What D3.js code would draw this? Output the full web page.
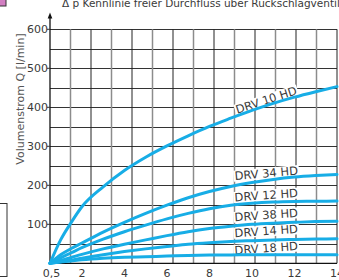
<!DOCTYPE html>
<html lang="de">
<head>
  <meta charset="UTF-8">
  <title>Δp Kennlinie</title>
  <script src="https://d3js.org/d3.v7.min.js"></script>
  <style>
    body { margin: 0; padding: 0; background: #fff; }
    svg { display: block; font-family: "DejaVu Sans", sans-serif; }
  </style>
</head>
<body>
  <div id="chart"></div>
  <script>
    // flow values, in l/min
    const xs = [0.5, 1, 1.5, 2, 3, 4, 5, 6, 7, 8, 9, 10, 11, 12, 13, 14];
    const drv10 = [0, 60, 105, 145, 196, 238, 272, 301, 327, 351, 372, 392, 410, 426, 440, 453];
    const drv34 = [0, 22, 38, 52, 80, 105, 128, 149, 168, 184, 197, 207, 215, 221, 225, 228];
    const drv12 = [0, 14, 27, 40, 62, 81, 98, 114, 128, 140, 149, 154, 157, 158.5, 159, 159.5];
    const drv38 = [0, 7, 15, 23, 37, 49, 60, 71, 81, 89, 95, 100, 103, 105, 107, 108];
    const drv14 = [0, 4, 8, 13, 22, 30, 37, 43, 49, 53, 56, 58, 60, 61, 62, 63];
    const drv18 = [0, 3, 6, 9, 13, 15.5, 17, 18.5, 20, 21, 21.5, 22, 22, 22, 22, 22];

    const seriesNames = ["DRV 10  HD", "DRV 34 HD", "DRV 12 HD", "DRV 38 HD", "DRV 14 HD", "DRV 18 HD"];
    const seriesValues = [drv10, drv34, drv12, drv38, drv14, drv18];
    const xTicks = [0.5, 2, 4, 6, 8, 10, 12, 14];
    const yTicks = [100, 200, 300, 400, 500, 600];

    const width = 339, height = 280;
    const plotL = 50, plotR = 337, plotT = 29.3, plotB = 263.3;

    const svg = d3.select("#chart").append("svg")
      .attr("width", width)
      .attr("height", height);

    const x = d3.scaleLinear().domain([0.5, 14]).range([plotL, plotR]);
    const y = d3.scaleLinear().domain([0, 600]).range([plotB, plotT]);
    // the printed grid has 14 even columns, independent of the tick labels
    const gridX = d3.scaleLinear().domain([0, 14]).range([plotL, plotR]);

    const blue = "#17ade6";
    const textCol = "#3a3a3a";

    // decoration bits at the left edge
    svg.append("rect").attr("x", -1).attr("y", -1).attr("width", 7).attr("height", 7)
      .attr("fill", "#d27fc2").attr("stroke", "#333").attr("stroke-width", 1);
    svg.append("rect").attr("x", -2).attr("y", 203.5).attr("width", 9).attr("height", 73)
      .attr("fill", "none").attr("stroke", "#333").attr("stroke-width", 1);

    // title, cut off at the top like the source
    svg.append("text")
      .attr("x", 62).attr("y", 6.8)
      .attr("font-size", 10.5)
      .attr("fill", textCol)
      .text("Δ p Kennlinie freier Durchfluss über Rückschlagventil");

    // horizontal grid
    svg.append("g").selectAll("line")
      .data(d3.range(50, 601, 50))
      .join("line")
      .attr("x1", plotL).attr("x2", plotR)
      .attr("y1", d => Math.round(y(d)) + 0.5).attr("y2", d => Math.round(y(d)) + 0.5)
      .attr("stroke", "#333").attr("stroke-width", 1);

    // vertical grid, every other line darker
    svg.append("g").selectAll("line")
      .data(d3.range(1, 15))
      .join("line")
      .attr("x1", d => gridX(d)).attr("x2", d => gridX(d))
      .attr("y1", plotT).attr("y2", plotB)
      .attr("stroke", d => d % 2 === 0 ? "#222" : "#8c8c8c")
      .attr("stroke-width", d => d % 2 === 0 ? 1 : 1.5);

    // axes
    svg.append("line")
      .attr("x1", plotL).attr("x2", plotL).attr("y1", plotB).attr("y2", 17)
      .attr("stroke", "#111").attr("stroke-width", 1.3);
    svg.append("path")
      .attr("d", `M${plotL - 2.3},18.5 L${plotL},12.5 L${plotL + 2.3},18.5 Z`)
      .attr("fill", "#111");
    svg.append("line")
      .attr("x1", plotL).attr("x2", plotR).attr("y1", plotB).attr("y2", plotB)
      .attr("stroke", "#111").attr("stroke-width", 1.3);

    // y ticks and labels
    svg.append("g").selectAll("line")
      .data(yTicks)
      .join("line")
      .attr("x1", plotL - 3).attr("x2", plotL)
      .attr("y1", d => y(d)).attr("y2", d => y(d))
      .attr("stroke", "#333");
    svg.append("g").selectAll("text")
      .data(yTicks)
      .join("text")
      .attr("x", plotL - 2).attr("y", d => y(d) + 4)
      .attr("text-anchor", "end")
      .attr("font-size", 11)
      .attr("fill", textCol)
      .text(d => d);

    // x labels
    svg.append("g").selectAll("text")
      .data(xTicks)
      .join("text")
      .attr("x", d => x(d) + (d === 0.5 ? 1.5 : 0)).attr("y", 276.5)
      .attr("text-anchor", "middle")
      .attr("font-size", 11)
      .attr("fill", textCol)
      .text(d => String(d).replace(".", ","));

    // y axis title
    svg.append("text")
      .attr("transform", "translate(24,99) rotate(-90)")
      .attr("text-anchor", "middle")
      .attr("font-size", 11)
      .attr("fill", "#555")
      .text("Volumenstrom Q [l/min]");

    // curve labels: position in data units plus tilt
    const labelX = 10.67;
    const labelY = [419, 231, 175, 124, 83, 39];
    const labelAngle = [-18, -5, -4, -4, -4, -4];

    const labels = svg.append("g").selectAll("g")
      .data(seriesNames)
      .join("g")
      .attr("transform", (d, i) => `translate(${x(labelX)},${y(labelY[i])}) rotate(${labelAngle[i]})`);

    labels.append("text")
      .attr("text-anchor", "middle")
      .attr("dy", "0.36em")
      .attr("font-size", 11.5)
      .attr("fill", textCol)
      .text(d => d);

    labels.each(function () {
      const g = d3.select(this);
      const b = g.select("text").node().getBBox();
      g.insert("rect", "text")
        .attr("x", b.x - 1).attr("y", b.y + 1.5)
        .attr("width", b.width + 2).attr("height", b.height - 3)
        .attr("fill", "#fff");
    });

    // curves
    const line = d3.line()
      .x((d, i) => x(xs[i]))
      .y(d => y(d))
      .curve(d3.curveMonotoneX);

    svg.append("g").selectAll("path")
      .data(seriesValues)
      .join("path")
      .attr("d", line)
      .attr("fill", "none")
      .attr("stroke", blue)
      .attr("stroke-width", 3)
      .attr("stroke-linecap", "round");

    // keep label text above the curves
    labels.raise();
  </script>
</body>
</html>
